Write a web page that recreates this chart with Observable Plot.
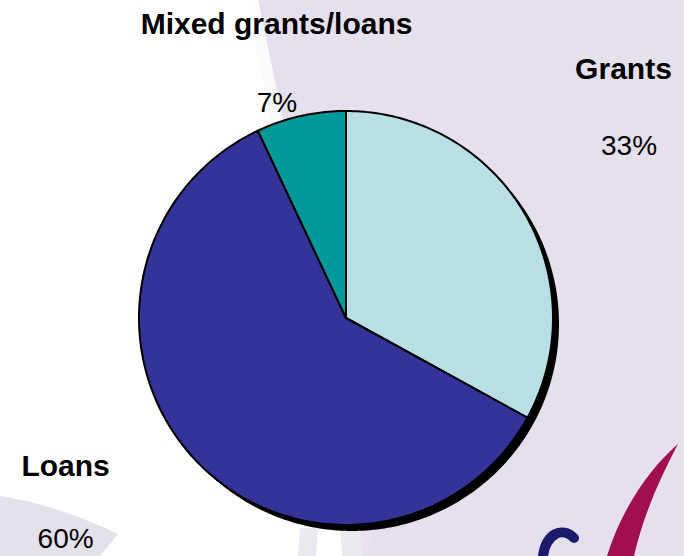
<!DOCTYPE html>
<html>
<head>
<meta charset="utf-8">
<script src="https://cdn.jsdelivr.net/npm/d3@7"></script>
<script src="https://cdn.jsdelivr.net/npm/@observablehq/plot@0.6"></script>
<style>
  html, body { margin: 0; padding: 0; background: #ffffff; }
  #wrap { position: relative; width: 684px; height: 556px; overflow: hidden; }
  #bg { position: absolute; left: 0; top: 0; }
  #chart { position: absolute; left: 0; top: 0; }
</style>
</head>
<body>
<div id="wrap">
  <svg id="bg" width="684" height="556" xmlns="http://www.w3.org/2000/svg">
    <defs>
      <linearGradient id="edge" x1="0" y1="0" x2="1" y2="0">
        <stop offset="0" stop-color="#ffffff"/>
        <stop offset="1" stop-color="#e6e0ec"/>
      </linearGradient>
    </defs>
    <rect width="684" height="556" fill="#ffffff"/>
    <path d="M258,0 L684,0 L684,556 L373,556 Z" fill="#e6e0ec"/>
    <path d="M246,0 L258,0 L373,556 L361,556 Z" fill="url(#edge)"/>
    <path d="M0,496 Q55,504 118,534 L100,556 L0,556 Z" fill="#e4e1ea"/>
    <path d="M300,528 L318,528 L316,556 L298,556 Z M340,528 L360,528 L362,556 L342,556 Z" fill="#ebe9ef"/>
    <path d="M678,444 C650,468 622,508 607,556 L634,556 C643,517 658,482 678,444 Z" fill="#a0104f"/>
    <path d="M574,538 C562,526 546,534 543,556" fill="none" stroke="#1b1a6b" stroke-width="10" stroke-linecap="round"/>
  </svg>
  <div id="chart"></div>
</div>
<script>
// ---- data ----
const categories = ["Grants", "Loans", "Mixed grants/loans"];
const shares = [33, 60, 7];
const percentLabels = ["33%", "60%", "7%"];
const sliceColors = ["#b8e0e4", "#333399", "#009999"];

// ---- layout (unit-circle coordinates for labels) ----
const W = 684, H = 556;
const cx = 346, cy = 318, r = 207;
const nameLayout = [
  {x: 1.338, y: 1.204},   // Grants
  {x: -1.357, y: -0.714}, // Loans
  {x: -0.338, y: 1.422}   // Mixed grants/loans
];
const pctLayout = [
  {x: 1.365, y: 0.831},
  {x: -1.357, y: -1.066},
  {x: -0.336, y: 1.039}
];

// ---- pie geometry from data ----
const arcs = d3.pie().sort(null).value(d => d)(shares);
const slicePts = [];
arcs.forEach((a, i) => {
  const n = Math.max(8, Math.ceil((a.endAngle - a.startAngle) / (Math.PI / 180)));
  for (let k = 0; k <= n; k++) {
    const t = a.startAngle + (a.endAngle - a.startAngle) * k / n;
    slicePts.push({cat: categories[i], x: Math.sin(t), y: Math.cos(t)});
  }
});
const circlePts = d3.range(0, 361).map(k => {
  const t = k * Math.PI / 180;
  return {x: Math.sin(t), y: Math.cos(t)};
});

const names = categories.map((c, i) => ({label: c, x: nameLayout[i].x, y: nameLayout[i].y}));
const pcts = percentLabels.map((p, i) => ({label: p, x: pctLayout[i].x, y: pctLayout[i].y}));

const font = "'Liberation Sans', Arial, Helvetica, sans-serif";

const chart = Plot.plot({
  width: W,
  height: H,
  margin: 0,
  style: {background: "transparent", overflow: "visible", fontFamily: font},
  x: {type: "linear", domain: [-1, 1], range: [cx - r, cx + r], axis: null},
  y: {type: "linear", domain: [-1, 1], range: [cy + r, cy - r], axis: null},
  color: {domain: categories, range: sliceColors},
  marks: [
    Plot.area(circlePts, {x1: "x", y1: "y", x2: () => 0, y2: () => 0, fill: "#000000", dx: 6, dy: 6, curve: "linear"}),
    Plot.area(slicePts, {x1: "x", y1: "y", x2: () => 0, y2: () => 0, z: "cat", fill: "cat", stroke: "#000000", strokeWidth: 2, strokeLinejoin: "round", curve: "linear"}),
    Plot.text(names, {x: "x", y: "y", text: "label", fontSize: 30, fontWeight: "bold", fill: "#000000", textAnchor: "middle", lineAnchor: "middle"}),
    Plot.text(pcts, {x: "x", y: "y", text: "label", fontSize: 28, fill: "#000000", textAnchor: "middle", lineAnchor: "middle"})
  ]
});
document.getElementById("chart").appendChild(chart);
</script>
</body>
</html>
